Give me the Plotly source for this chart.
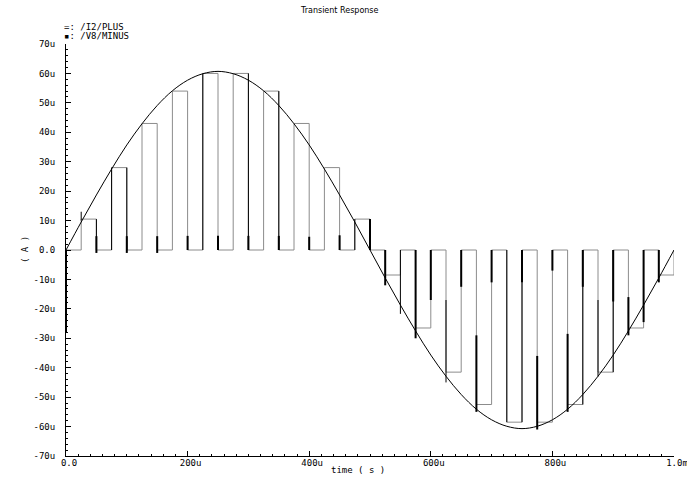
import plotly.graph_objects as go

# ---- data (micro-units: time in us, current in uA) ----
sine_t = [0, 25, 50, 75, 100, 125, 150, 175, 200, 225, 250, 275, 300, 325, 350, 375, 400,
          425, 450, 475, 500, 525, 550, 575, 600, 625, 650, 675, 700, 725, 750, 775, 800,
          825, 850, 875, 900, 925, 950, 975, 1000]
sine_vals = [0, 9.5, 18.7, 27.5, 35.7, 42.9, 49.1, 54.1, 57.7, 59.9, 60.7, 59.9, 57.7, 54.1,
             49.1, 42.9, 35.7, 27.5, 18.7, 9.5, 0, -9.5, -18.7, -27.5, -35.7, -42.9, -49.1,
             -54.1, -57.7, -59.9, -60.7, -59.9, -57.7, -54.1, -49.1, -42.9, -35.7, -27.5,
             -18.7, -9.5, 0]

edge_t = [0, 25, 50, 75, 100, 125, 150, 175, 200, 225, 250, 275, 300, 325, 350, 375, 400,
          425, 450, 475, 500, 525, 550, 575, 600, 625, 650, 675, 700, 725, 750, 775, 800,
          825, 850, 875, 900, 925, 950, 975, 1000]
hold_vals = [10.5, 28, 43, 54, 60, 60, 54, 43, 28, 10.5,
             -8.5, -26.5, -41.5, -52.5, -58.5, -58.5, -52.5, -41.5, -26.5, -8.5]

# /V8/MINUS switching transients (time, from, to)
thick_t = [0, 50, 100, 150, 200, 250, 300, 350, 400, 450, 500, 525, 575, 600, 650, 675,
           700, 750, 775, 800, 825, 850, 900, 925, 950, 975]
thick_lo = [-28, -1, -1, -1, 0, 0, 0, 0, 0, 0, 0, -12, -30, -17, -12.5, -55,
            -11, -11, -61, -7, -55, -12.5, -17.5, -29, -24.5, -11]
thick_hi = [0, 4.7, 4.7, 4.7, 4.8, 4.8, 4.8, 4.8, 4.5, 5, 10.5, 0, 0, 0, 0, -29,
            0, 0, -36, 0, -28.5, 0, 0, -16, 0, 0]
thin_t = [25, 50, 75, 100, 225, 300, 350, 475, 550, 625, 725, 750, 850, 875, 900]
thin_lo = [10, 0, 0, 0, 0, 0, 0, 0, -21.7, -45, -58.5, -58.5, -52.5, -43, -41.5]
thin_hi = [13, 10.5, 28, 28, 60, 60, 54, 10.5, 0, -17, 0, 0, 0, -17, 0]

y_ticks = [70, 60, 50, 40, 30, 20, 10, 0, -10, -20, -30, -40, -50, -60, -70]
y_labels = ["70u", "60u", "50u", "40u", "30u", "20u", "10u", "0.0", "-10u", "-20u",
            "-30u", "-40u", "-50u", "-60u", "-70u"]
x_ticks = [0, 200, 400, 600, 800, 1000]
x_labels = ["0.0", "200u", "400u", "600u", "800u", "1.0m"]

# ---- build traces ----
pulse_y = [0]
for v in hold_vals:
    pulse_y += [v, 0]


def segs(ts, lo, hi):
    xs, ys = [], []
    for t, a, b in zip(ts, lo, hi):
        xs += [t, t, None]
        ys += [a, b, None]
    return xs, ys


fig = go.Figure()
fig.add_trace(go.Scatter(x=edge_t, y=pulse_y, mode="lines", line_shape="hv",
                         line=dict(color="#8c8c8c", width=1), name="/I2/PLUS"))
tx, ty = segs(thin_t, thin_lo, thin_hi)
fig.add_trace(go.Scatter(x=tx, y=ty, mode="lines", line=dict(color="black", width=1),
                         name="/V8/MINUS"))
kx, ky = segs(thick_t, thick_lo, thick_hi)
fig.add_trace(go.Scatter(x=kx, y=ky, mode="lines", line=dict(color="black", width=2),
                         name="/V8/MINUS"))
fig.add_trace(go.Scatter(x=sine_t, y=sine_vals, mode="lines", line_shape="spline",
                         line=dict(color="black", width=1), name="/V8/MINUS"))

mono = "DejaVu Sans Mono"
fig.update_layout(
    width=687, height=484,
    margin=dict(l=66, r=13, t=44, b=28),
    paper_bgcolor="white", plot_bgcolor="white",
    showlegend=False,
    font=dict(family=mono, size=9, color="black"),
    xaxis=dict(range=[0, 1000], showgrid=False, zeroline=False, showline=True,
               linecolor="black", linewidth=1, ticks="inside", ticklen=5,
               tickcolor="black", tickmode="array", tickvals=x_ticks, ticktext=x_labels,
               minor=dict(ticks="inside", ticklen=2, tickcolor="black", dtick=20, tick0=0),
               tickfont=dict(family=mono, size=9), automargin=False,
               ticklabelstandoff=-2, ticklabelshift=3, ticklabeloverflow="allow"),
    yaxis=dict(range=[-70, 70], showgrid=False, zeroline=False, showline=True,
               linecolor="black", linewidth=1, ticks="inside", ticklen=5,
               tickcolor="black", tickmode="array", tickvals=y_ticks, ticktext=y_labels,
               minor=dict(ticks="inside", ticklen=2, tickcolor="black", dtick=2, tick0=0),
               tickfont=dict(family=mono, size=9), ticklabelstandoff=8, automargin=False),
)
fig.add_annotation(text="Transient Response", xref="paper", yref="paper", x=0.45, y=1,
                   yanchor="middle", yshift=34, showarrow=False,
                   font=dict(family="DejaVu Sans", size=8))
fig.add_annotation(text="=: /I2/PLUS", xref="paper", yref="paper", x=0, y=1, xshift=-4,
                   yshift=17, xanchor="left", yanchor="middle", showarrow=False,
                   font=dict(family=mono, size=9))
fig.add_annotation(text="\u25aa: /V8/MINUS", xref="paper", yref="paper", x=0, y=1, xshift=-4,
                   yshift=8, xanchor="left", yanchor="middle", showarrow=False,
                   font=dict(family=mono, size=9))
fig.add_annotation(text="time ( s )", xref="paper", yref="paper", x=0.48, y=0,
                   yanchor="middle", yshift=-14, showarrow=False,
                   font=dict(family=mono, size=9))
fig.add_annotation(text="( A )", xref="paper", yref="paper", x=0, y=0.5, xshift=-48,
                   textangle=-90, showarrow=False, font=dict(family=mono, size=9))
fig.write_html("out.html", config={"displayModeBar": False},
               post_script="document.body.style.margin='0px';document.body.style.overflow='hidden';")
